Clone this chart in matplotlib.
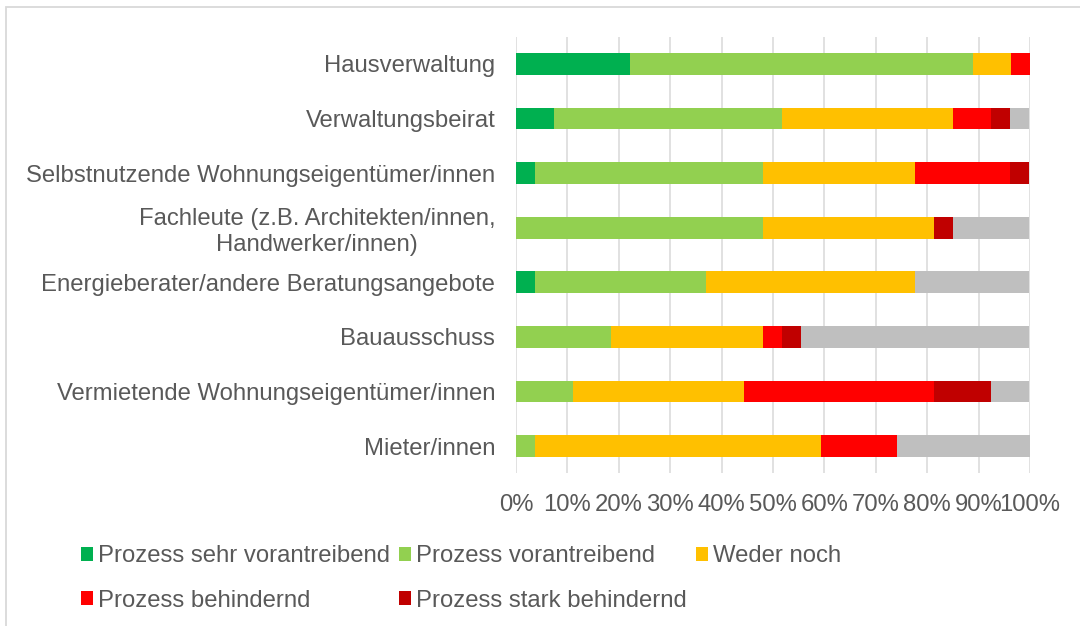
import matplotlib.pyplot as plt
from matplotlib.patches import Patch, Rectangle
import numpy as np

plt.rcParams['font.family'] = ['Liberation Sans', 'DejaVu Sans']

# Kategorien (von oben nach unten)
categories = [
    "Hausverwaltung",
    "Verwaltungsbeirat",
    "Selbstnutzende Wohnungseigentümer/innen",
    "Fachleute (z.B. Architekten/innen,\nHandwerker/innen)",
    "Energieberater/andere Beratungsangebote",
    "Bauausschuss",
    "Vermietende Wohnungseigentümer/innen",
    "Mieter/innen",
]

# Anteile in %
sehr_vorantreibend = [22.2, 7.4, 3.7, 0.0, 3.7, 0.0, 0.0, 0.0]
vorantreibend = [66.7, 44.4, 44.4, 48.1, 33.3, 18.5, 11.1, 3.7]
weder_noch = [7.4, 33.3, 29.6, 33.3, 40.7, 29.6, 33.3, 55.6]
behindernd = [3.7, 7.4, 18.5, 0.0, 0.0, 3.7, 37.0, 14.8]
stark_behindernd = [0.0, 3.7, 3.7, 3.7, 0.0, 3.7, 11.1, 0.0]
keine_angabe = [0.0, 3.7, 0.0, 14.8, 22.2, 44.4, 7.4, 25.9]

series = [
    ("Prozess sehr vorantreibend", sehr_vorantreibend, "#00B050"),
    ("Prozess vorantreibend", vorantreibend, "#92D050"),
    ("Weder noch", weder_noch, "#FFC000"),
    ("Prozess behindernd", behindernd, "#FF0000"),
    ("Prozess stark behindernd", stark_behindernd, "#C00000"),
    (None, keine_angabe, "#BFBFBF"),
]

text_col = "#595959"
grid_col = "#D9D9D9"
fs = 17.2

fig = plt.figure(figsize=(10.8, 6.26), dpi=100)
ax = fig.add_axes([0.4778, 0.2439, 0.4759, 0.6975])

y = np.arange(len(categories))
left = np.zeros(len(categories))
for label, vals, col in series:
    vals = np.array(vals)
    ax.barh(y, vals, left=left, height=0.4, color=col, zorder=3)
    left += vals

ax.set_ylim(len(categories) - 0.5, -0.5)
ax.set_xlim(0, 100)
ax.set_xticks(np.arange(0, 101, 10))
ax.set_xticklabels([f"{v}%" for v in range(0, 101, 10)])
ax.set_yticks(y)
ax.set_yticklabels(categories)
for t in ax.get_yticklabels():
    t.set_multialignment("center")

ax.tick_params(axis="both", length=0, labelsize=fs, labelcolor=text_col)
ax.tick_params(axis="y", pad=15)
ax.tick_params(axis="x", pad=15)
ax.grid(axis="x", color=grid_col, linewidth=1.1, zorder=0)
for s in ax.spines.values():
    s.set_visible(False)

handles = [Patch(facecolor=c, label=l) for l, v, c in series if l]
order = [0, 3, 1, 4, 2]
fig.legend([handles[i] for i in order], [handles[i].get_label() for i in order],
           ncol=3, loc="upper left", bbox_to_anchor=(0.066, 0.144),
           frameon=False, fontsize=fs, labelcolor=text_col,
           handlelength=0.5, handleheight=0.5, handletextpad=0.2,
           columnspacing=0.4, labelspacing=0.93, borderaxespad=0)

# Rahmen
fig.add_artist(Rectangle((6 / 1080, -0.1), 2, 1 - 7 / 626 + 0.1,
                         transform=fig.transFigure, fill=False,
                         edgecolor=grid_col, linewidth=1.3))

fig.savefig("out.png", dpi=100)
